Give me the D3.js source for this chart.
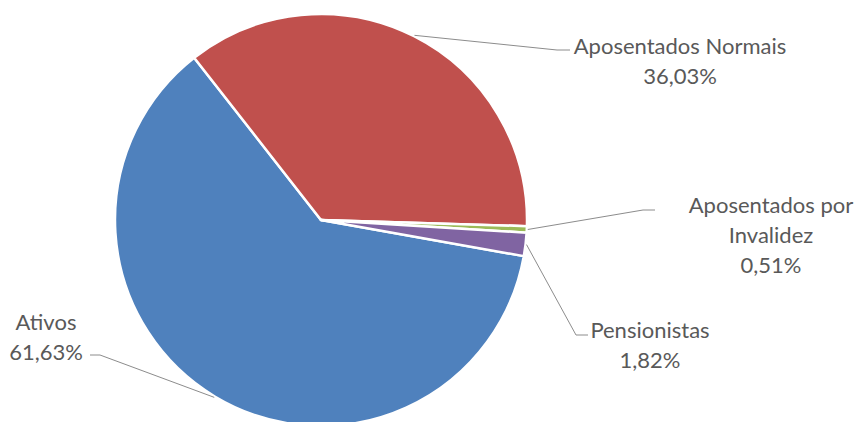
<!DOCTYPE html>
<html>
<head>
<meta charset="utf-8">
<script src="https://cdn.jsdelivr.net/npm/d3@7"></script>
<style>
  html, body { margin: 0; padding: 0; background: #ffffff; }
  svg { display: block; }
  .lbl { font-family: Lato, "Open Sans", sans-serif; font-size: 22px; fill: #595959; }
</style>
</head>
<body>
<svg id="chart" width="861" height="422"></svg>
<script>
// Participant groups and their share of the total (%)
const categories = ["Ativos", "Aposentados Normais", "Aposentados por Invalidez", "Pensionistas"];
const shares = [61.63, 36.03, 0.51, 1.82];
const labelLines = [["Ativos"], ["Aposentados Normais"], ["Aposentados por", "Invalidez"], ["Pensionistas"]];
const colors = ["#4F81BD", "#C0504D", "#9BBB59", "#8064A2"];

const width = 861, height = 422;
const cx = 321, cy = 220, radius = 206;
const firstSliceDeg = 100.1;

// Label placement: text centre, first baseline, elbow of the leader line and its end
const labelLayout = [
  { x: 46,  y: 330, elbow: [100, 355], end: [90, 355] },
  { x: 680, y: 54,  elbow: [557, 50],  end: [570, 50] },
  { x: 771, y: 213, elbow: [643, 210], end: [655, 210] },
  { x: 650, y: 338, elbow: [576, 335], end: [588, 335] }
];
const lineHeight = 30;

const svg = d3.select("#chart");
const g = svg.append("g").attr("transform", `translate(${cx},${cy})`);

const start = firstSliceDeg * Math.PI / 180;
const pie = d3.pie().sort(null).value(d => d.value)
  .startAngle(start).endAngle(start + 2 * Math.PI);
const data = categories.map((c, i) => ({ name: c, value: shares[i], i }));
const arcs = pie(data);

const arc = d3.arc().innerRadius(0).outerRadius(radius);
const edge = d3.arc().innerRadius(radius + 1).outerRadius(radius + 1);

g.selectAll("path.slice").data(arcs).join("path")
  .attr("class", "slice")
  .attr("d", arc)
  .attr("fill", d => colors[d.data.i])
  .attr("stroke", "#ffffff")
  .attr("stroke-width", 2.5)
  .attr("stroke-linejoin", "round");

const fmt = v => v.toFixed(2).replace(".", ",") + "%";

// Leader lines from the slice edge to the labels
svg.selectAll("polyline.leader").data(arcs).join("polyline")
  .attr("class", "leader")
  .attr("fill", "none")
  .attr("stroke", "#8c8c8c")
  .attr("stroke-width", 1)
  .attr("points", d => {
    const L = labelLayout[d.data.i];
    const p = edge.centroid(d);
    return [[cx + p[0], cy + p[1]], L.elbow, L.end].map(q => q.join(",")).join(" ");
  });

// Category names and percentages
const labels = svg.selectAll("text.lbl").data(arcs).join("text")
  .attr("class", "lbl")
  .attr("text-anchor", "middle");
labels.each(function(d) {
  const L = labelLayout[d.data.i];
  const lines = labelLines[d.data.i].concat([fmt(d.data.value)]);
  d3.select(this).selectAll("tspan").data(lines).join("tspan")
    .attr("x", L.x)
    .attr("y", (t, k) => L.y + k * lineHeight)
    .text(t => t);
});
</script>
</body>
</html>
